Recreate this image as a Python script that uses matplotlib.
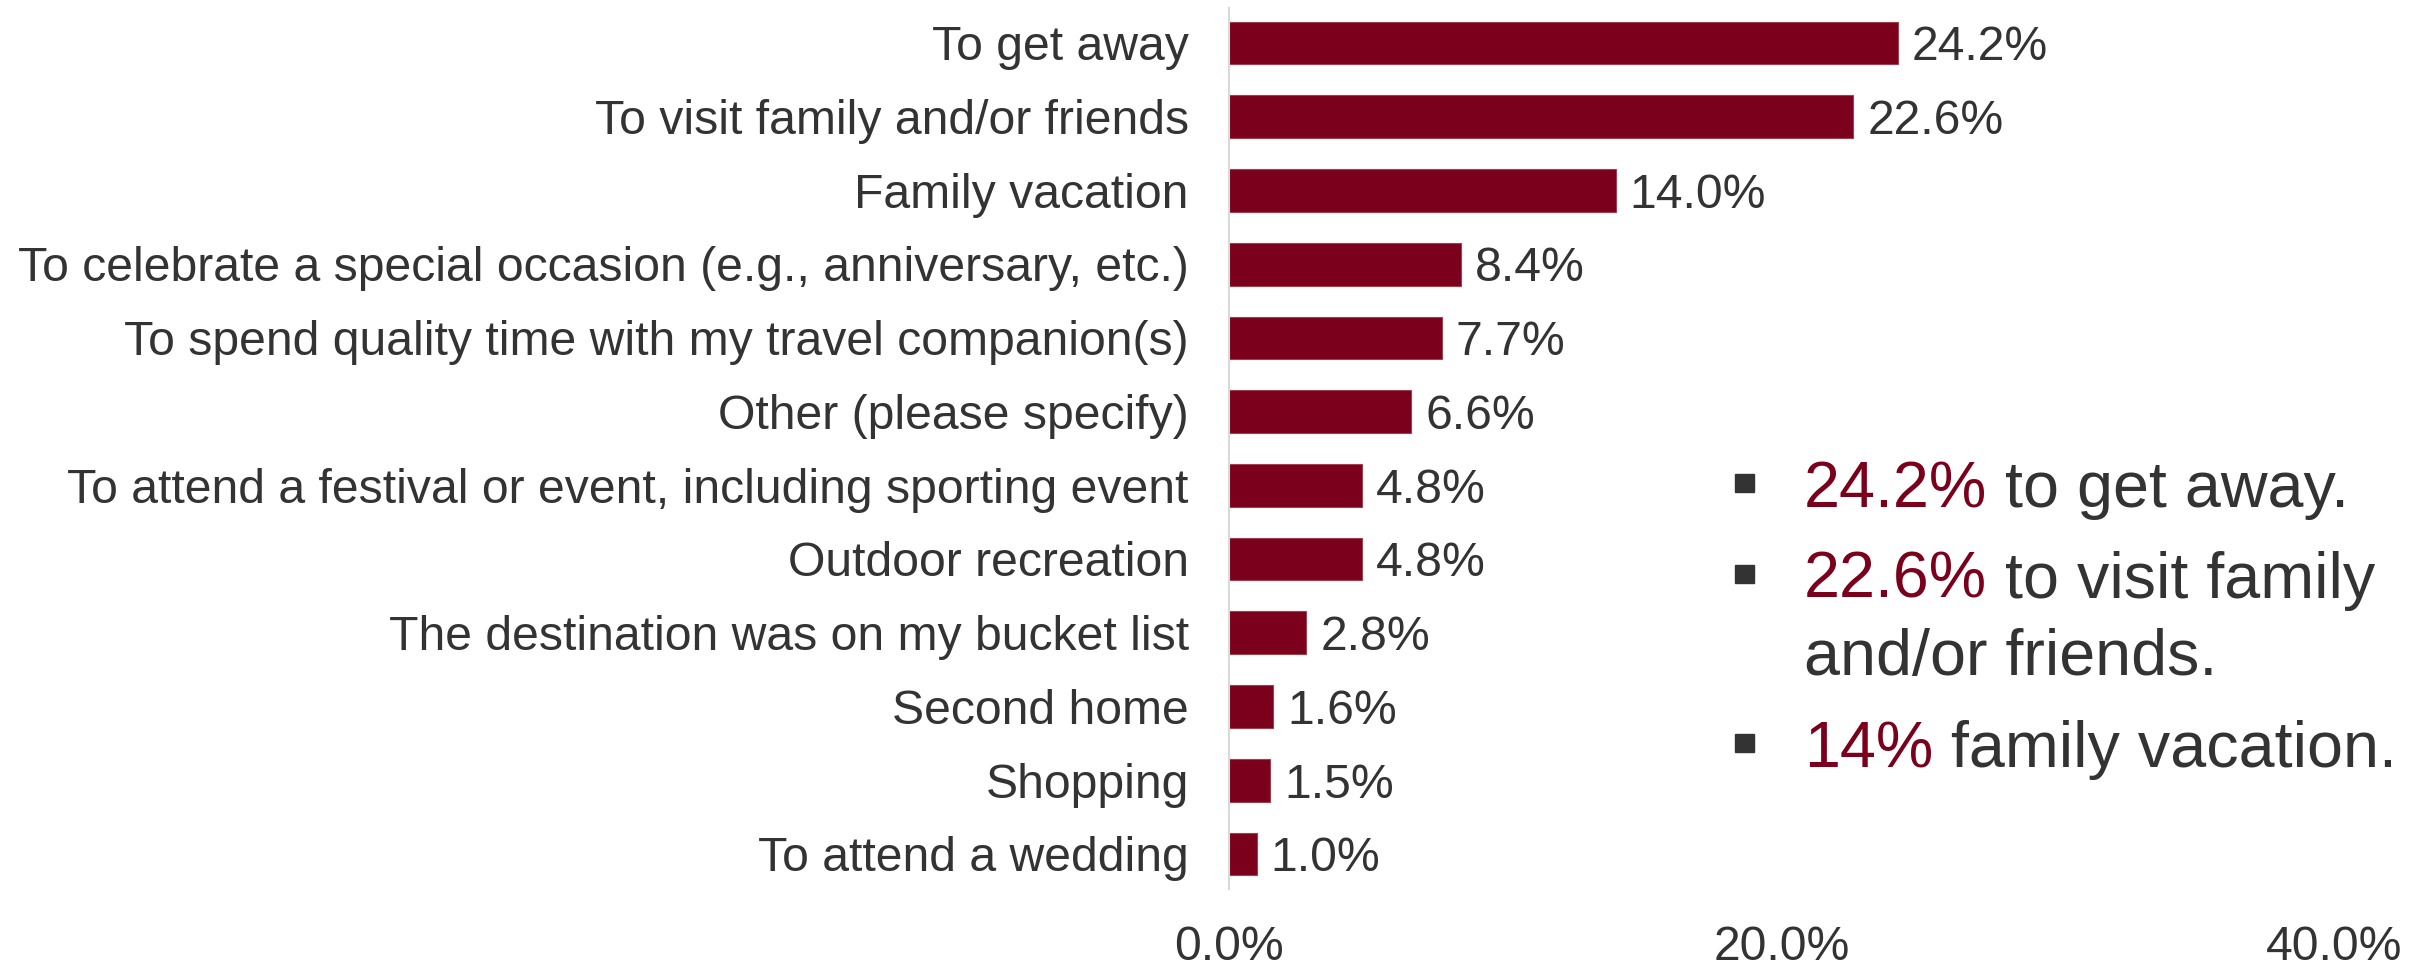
import matplotlib
matplotlib.use("Agg")
import matplotlib.pyplot as plt
from matplotlib.patches import Rectangle

plt.rcParams['font.family'] = ['Liberation Sans', 'DejaVu Sans']

# Reasons for the trip (share of respondents, %)
categories = [
    "To get away",
    "To visit family and/or friends",
    "Family vacation",
    "To celebrate a special occasion (e.g., anniversary, etc.)",
    "To spend quality time with my travel companion(s)",
    "Other (please specify)",
    "To attend a festival or event, including sporting event",
    "Outdoor recreation",
    "The destination was on my bucket list",
    "Second home",
    "Shopping",
    "To attend a wedding",
]
values = [24.2, 22.6, 14.0, 8.4, 7.7, 6.6, 4.8, 4.8, 2.8, 1.6, 1.5, 1.0]
x_ticks = [0, 20, 40]
x_tick_labels = ["0.0%", "20.0%", "40.0%"]

# Key takeaways: (highlighted figure, remaining text) per line
highlights = [
    ("24.2%", " to get away."),
    ("22.6%", " to visit family"),
    (None, "and/or friends."),
    ("14%", " family vacation."),
]

BAR = "#7A001C"
TEXT = "#333333"
W, H = 2433, 966
FS = 34.7           # chart text size
DROP = -0.358 * FS  # baseline shift that centres digits/capitals on a row

fig = plt.figure(figsize=(W / 100, H / 100), dpi=100)
ax = fig.add_axes([1229 / W, 1 - 889 / H, (2334 - 1229) / W, (889 - 8) / H])

ypos = list(range(len(categories)))
ax.barh(ypos, values, height=0.58, color=BAR, edgecolor="#A0404F", linewidth=0.8)

ax.set_xlim(0, 40)
ax.set_ylim(len(categories) - 1 + 0.475, -0.475)
ax.set_yticks([])
ax.set_xticks(x_ticks)
ax.set_xticklabels(x_tick_labels, fontsize=FS, color=TEXT)
ax.tick_params(axis="x", length=0, pad=26)

for side in ["top", "right", "bottom"]:
    ax.spines[side].set_visible(False)
ax.spines["left"].set_color("#D9D9D9")
ax.spines["left"].set_linewidth(1.5)

# Category names to the left of the axis
for y, name in zip(ypos, categories):
    ax.annotate(name, xy=(0, y), xycoords=("axes fraction", "data"),
                xytext=(-29, DROP), textcoords="offset points",
                ha="right", va="baseline", fontsize=FS, color=TEXT,
                annotation_clip=False)

# Value labels at the bar ends
for y, v in zip(ypos, values):
    ax.annotate(f"{v:.1f}%", xy=(v, y), xytext=(10, DROP), textcoords="offset points",
                ha="left", va="baseline", fontsize=FS, color=TEXT)

# Bullet list on the right
baselines = [507, 598, 675, 767]
bullet_rows = [0, 1, 3]
text_x = 1804
for i, ((hl, rest), base) in enumerate(zip(highlights, baselines)):
    yb = 1 - base / H
    if hl is not None:
        first = fig.text(text_x / W, yb, hl, fontsize=46.5, color=BAR,
                         ha="left", va="baseline")
        ax.annotate(rest, xy=(1, 0), xycoords=first, ha="left", va="bottom",
                    fontsize=46.5, color=TEXT, annotation_clip=False)
    else:
        fig.text(text_x / W, yb, rest, fontsize=46.5, color=TEXT,
                 ha="left", va="baseline")
    if i in bullet_rows:
        cy = base - 24
        fig.patches.append(Rectangle((1735 / W, 1 - (cy + 9) / H), 19 / W, 18 / H,
                                     transform=fig.transFigure, color=TEXT))

fig.savefig("out.png", dpi=100, facecolor="white")
